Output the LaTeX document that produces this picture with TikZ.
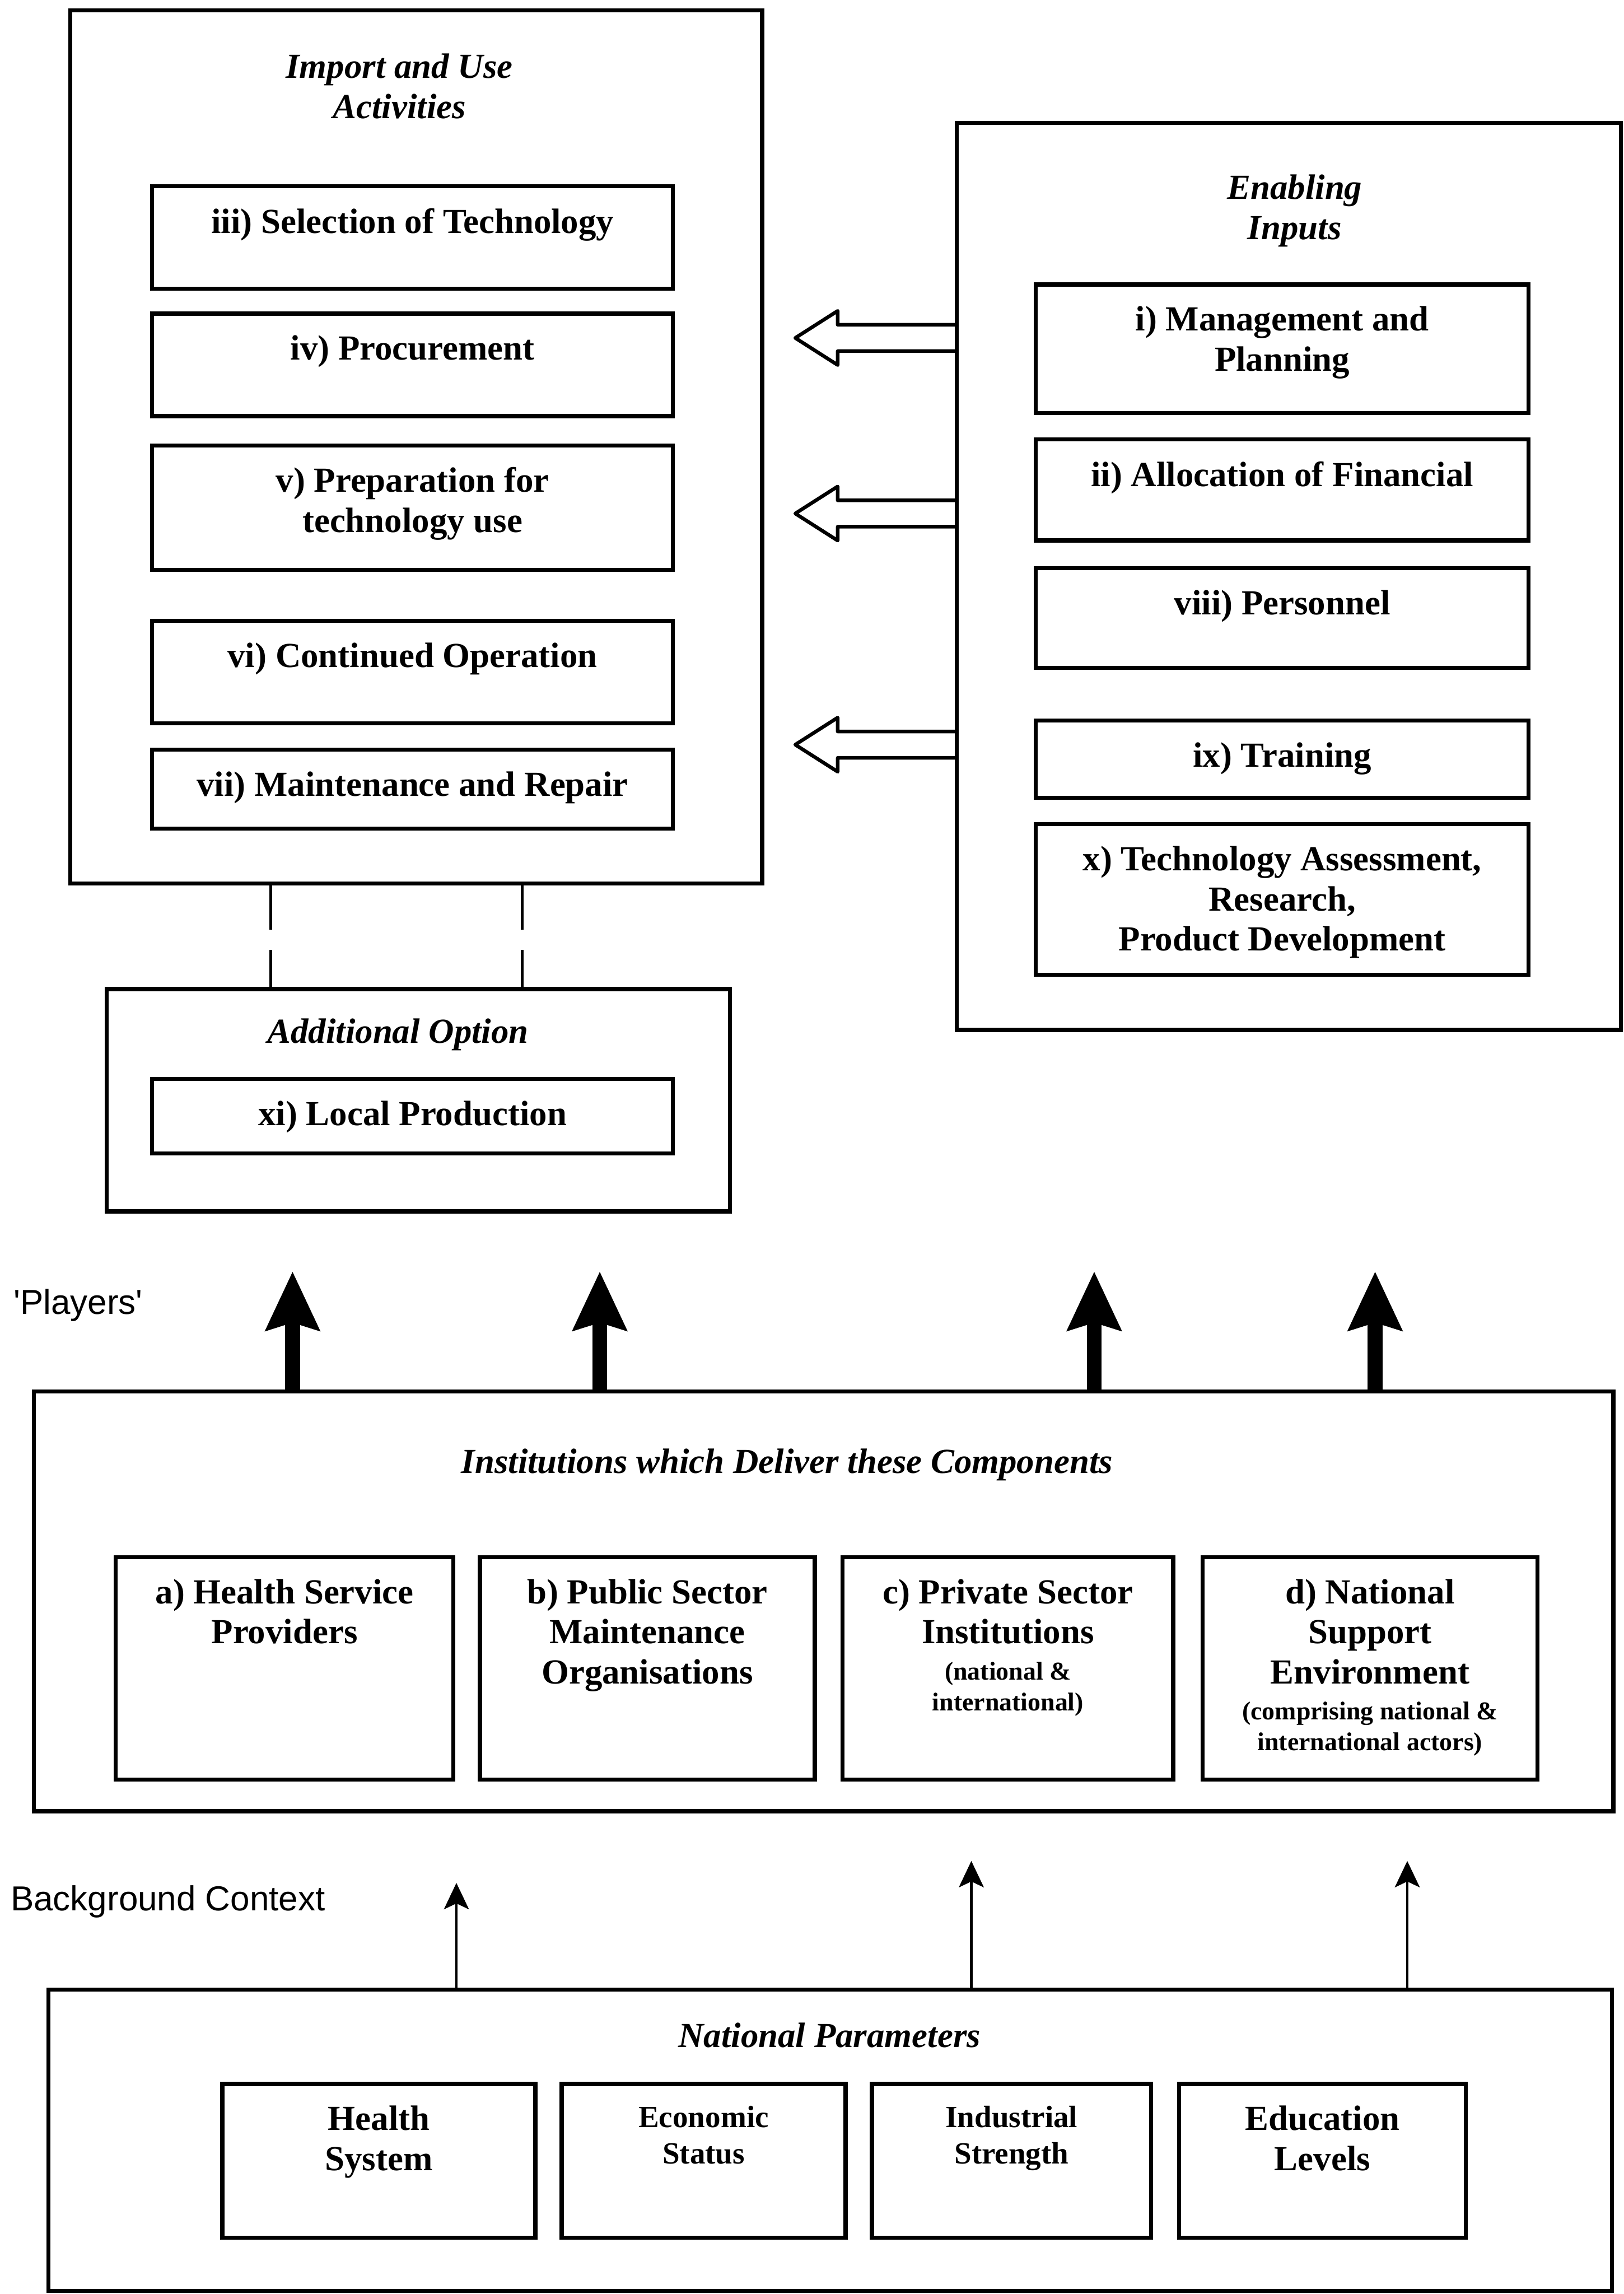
\documentclass[tikz,border=0pt]{standalone}
\usepackage{fontspec}
\setmainfont{Liberation Serif}
\newfontfamily\labelsans{Liberation Sans}
\usetikzlibrary{arrows.meta}

% text set at the top of a box of given width and height
\newcommand{\boxtext}[3]{\parbox[c][#2][t]{#1}{\centering #3}}
\newcommand{\smalltext}[1]{\par\vspace{2pt}{\fontsize{10pt}{12pt}\selectfont #1\par}}

\tikzset{
  outerbox/.style={draw, line width=1.6pt, inner sep=0pt},
  item/.style={draw, line width=1.6pt, anchor=north, inner xsep=0pt, inner ysep=0.3cm, font=\bfseries},
  heading/.style={font=\bfseries\itshape, align=center, inner sep=0pt},
  sidelabel/.style={font=\labelsans\fontsize{13.5pt}{16pt}\selectfont, anchor=west, inner sep=0pt},
  bigarrow/.style={-{Stealth[length=0.8cm, width=0.72cm, inset=0.1cm]}, line width=0.2cm},
  thinarrow/.style={-{Stealth[length=0.36cm, width=0.34cm, inset=0.08cm]}, line width=1pt},
  hollow/.style={line width=1.4pt, line join=round},
  dashline/.style={line width=1.2pt, dash pattern=on 0.6cm off 0.28cm}
}

\begin{document}
\fontsize{13.7pt}{15.6pt}\selectfont
\begin{tikzpicture}[x=0.02cm, y=-0.02cm]
  \useasboundingbox (0,0) rectangle (1110,1568);

  % Import and use activities
  \node[outerbox, minimum width=9.46cm, minimum height=11.94cm] (imp) at (284.5,305.5) {};
  \node[heading] (impT) at (273,59) {Import and Use\\Activities};
  \node[item] (sel) at (282,126) {\boxtext{7.12cm}{0.8cm}{iii) Selection of Technology}};
  \node[item] (proc) at (282,213) {\boxtext{7.12cm}{0.8cm}{iv) Procurement}};
  \node[item] (prep) at (282,303) {\boxtext{7.12cm}{1.1cm}{v) Preparation for\\technology use}};
  \node[item] (oper) at (282,423) {\boxtext{7.12cm}{0.8cm}{vi) Continued Operation}};
  \node[item] (maint) at (282,511) {\boxtext{7.12cm}{0.48cm}{vii) Maintenance and Repair}};

  % Enabling inputs
  \node[outerbox, minimum width=9.08cm, minimum height=12.4cm] (enab) at (881,394) {};
  \node[heading] (enabT) at (885,144) {Enabling\\Inputs};
  \node[item] (mgmt) at (876.5,193) {\boxtext{6.74cm}{1.16cm}{i) Management and\\Planning}};
  \node[item] (fin) at (876.5,299) {\boxtext{6.74cm}{0.78cm}{ii) Allocation of Financial}};
  \node[item] (pers) at (876.5,387) {\boxtext{6.74cm}{0.76cm}{viii) Personnel}};
  \node[item] (train) at (876.5,491) {\boxtext{6.74cm}{0.46cm}{ix) Training}};
  \node[item] (assess) at (876.5,562) {\boxtext{6.74cm}{1.46cm}{x) Technology Assessment,\\Research,\\Product Development}};

  % Hollow arrows from the inputs
  \foreach \y in {231,351,509}
    \draw[hollow] (enab.west |- 0,\y) ++(0,-9) -- ++(-80,0) -- ++(0,-9.5) -- ++(-29,18.5)
      -- ++(29,18.5) -- ++(0,-9.5) -- ++(80,0);

  % Additional option
  \node[outerbox, minimum width=8.52cm, minimum height=3.04cm] (addl) at (286,752) {};
  \node[heading] (addlT) at (272,707) {Additional Option};
  \node[item] (local) at (282,736) {\boxtext{7.12cm}{0.42cm}{xi) Local Production}};
  \foreach \x in {185,357}
    \draw[dashline] (imp.south -| \x,0) -- (addl.north -| \x,0);

  % Players
  \node[sidelabel] (players) at (9,892) {\textquotesingle Players\textquotesingle};
  \node[outerbox, minimum width=21.6cm, minimum height=5.74cm] (inst) at (563,1094.5) {};
  \node[heading] (instT) at (538,1001) {Institutions which Deliver these Components};
  \node[item] (hsp) at (194.5,1063) {\boxtext{4.62cm}{2.44cm}{a) Health Service\\Providers}};
  \node[item] (pub) at (442.5,1063) {\boxtext{4.58cm}{2.44cm}{b) Public Sector\\Maintenance\\Organisations}};
  \node[item] (priv) at (689,1063) {\boxtext{4.52cm}{2.44cm}{c) Private Sector\\Institutions\smalltext{(national \&\\international)}}};
  \node[item] (nse) at (936.5,1063) {\boxtext{4.58cm}{2.44cm}{d) National\\Support\\Environment\smalltext{(comprising national \&\\international actors)}}};
  \foreach \x in {200,410,748,940}
    \draw[bigarrow] (inst.north -| \x,0) -- (\x,869);

  % Background context
  \node[sidelabel] (context) at (7,1300) {Background Context};
  \node[outerbox, minimum width=21.38cm, minimum height=4.12cm] (np) at (567.5,1463) {};
  \node[heading] (npT) at (567,1391) {National Parameters};
  \node[item] (hs) at (259,1423) {\boxtext{4.28cm}{1.5cm}{Health\\System}};
  \node[item] (econ) at (481,1423) {\boxtext{3.88cm}{1.5cm}{\fontsize{12pt}{14.2pt}\selectfont Economic\\Status}};
  \node[item] (ind) at (691.5,1423) {\boxtext{3.82cm}{1.5cm}{\fontsize{12pt}{14.2pt}\selectfont Industrial\\Strength}};
  \node[item] (edu) at (904,1423) {\boxtext{3.92cm}{1.5cm}{Education\\Levels}};
  \foreach \x/\ty in {312/1287,664/1272,962/1272}
    \draw[thinarrow] (np.north -| \x,0) -- (\x,\ty);
\end{tikzpicture}
\end{document}
